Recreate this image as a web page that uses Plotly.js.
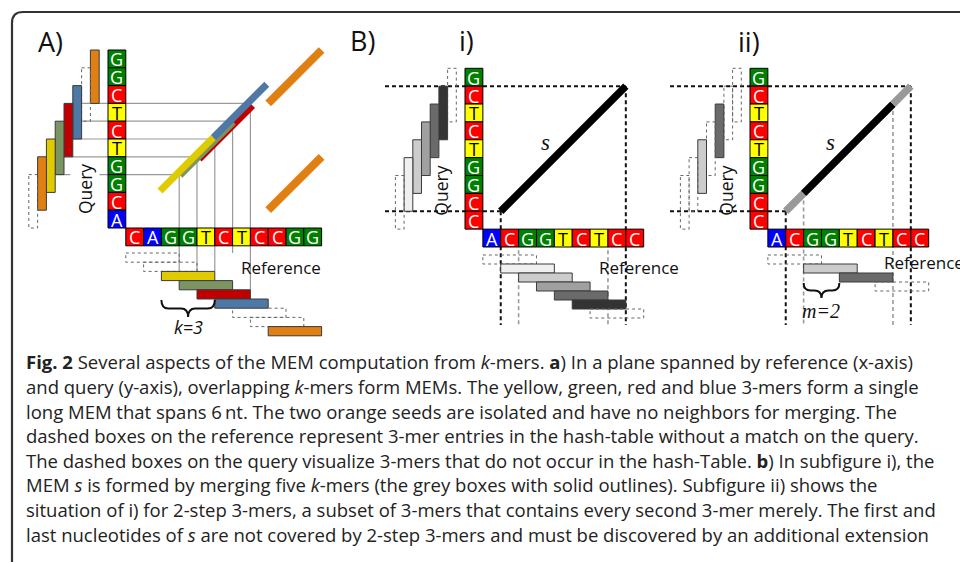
<!DOCTYPE html>
<html><head><meta charset="utf-8">
<script src="https://cdn.plot.ly/plotly-3.0.1.min.js"></script>
<style>html,body{margin:0;padding:0;background:#fff;}#chart{width:960px;height:562px;}</style>
</head><body><div id="chart"></div>
<script>
// ================= DATA =================
// Panel A: sequences (query listed top -> bottom, reference left -> right)
const queryA = ['G','G','C','T','C','T','G','G','C','A'];
const referenceA = ['C','A','G','G','T','C','T','C','C','G','G'];
// 3-mers on the query (by start, top-down) and on the reference (by start)
const queryKmersA = ['orange','none','blue','red','green','yellow','orange','none'];
const referenceKmersA = ['none','none','yellow','green','red','blue','none','none','orange'];
// seed matches: colour, query start (top-down), reference start
const seedColorsA = ['red','green','yellow','blue','orange','orange'];
const seedQueryA = [3,4,5,2,0,6];
const seedRefA = [4,3,2,5,8,8];
// guide corners along the MEM (boundary index) and the k-mer row where each vertical guide stops
const guideCornersA = [3,4,5,6,7];
const guideEndRowsA = [2,2,2,0,4];
const kValue = 3;
const kBraceStart = 2;

// Panel B
const queryB = ['G','C','T','C','T','G','G','C','C'];
const referenceB = ['A','C','G','G','T','C','T','C','C'];
const queryKmersBi = ['none','g5','g4','g3','g2','g1','none'];
const refKmerPosBi = [0,1,2,3,4,5,6];
const refKmersBi = ['none','g1','g2','g3','g4','g5','none'];
const queryKmersBii = ['none','none','g4','none','g2','none','none'];
const refKmerPosBii = [0,2,4,6];
const refKmersBii = ['none','g2','g4','none'];
const memB = [1,8];          // MEM s boundaries (reference and query bottom-up)
const coveredBii = [2,7];    // part of s covered by 2-step 3-mers
const mValue = 2;

// Text
const panelLabels = ['A)','B)','i)','ii)'];
const captionLines = [
 '<b>Fig. 2</b> Several aspects of the MEM computation from <i>k</i>-mers. <b>a</b>) In a plane spanned by reference (x-axis)',
 'and query (y-axis), overlapping <i>k</i>-mers form MEMs. The yellow, green, red and blue 3-mers form a single',
 'long MEM that spans 6\u2009nt. The two orange seeds are isolated and have no neighbors for merging. The',
 'dashed boxes on the reference represent 3-mer entries in the hash-table without a match on the query.',
 'The dashed boxes on the query visualize 3-mers that do not occur in the hash-Table. <b>b</b>) In subfigure i), the',
 'MEM <i>s</i> is formed by merging five <i>k</i>-mers (the grey boxes with solid outlines). Subfigure ii) shows the',
 'situation of i) for 2-step 3-mers, a subset of 3-mers that contains every second 3-mer merely. The first and',
 'last nucleotides of <i>s</i> are not covered by 2-step 3-mers and must be discovered by an additional extension'
];

// ================= STYLE / LAYOUT =================
const baseFill = {A:'#0000ff', C:'#ff0000', G:'#008000', T:'#ffff00'};
const baseInk = {A:'#ffffff', C:'#ffffff', G:'#ffffff', T:'#000000'};
const kmerFill = {yellow:'#dfcb00', green:'#7b9462', red:'#c00000', blue:'#4e78a6', orange:'#e07f12',
  g1:'#f0f0f0', g2:'#cccccc', g3:'#a0a0a0', g4:'#6a6a6a', g5:'#333333'};
const seedStyle = {red:[3,7], green:[1,7], yellow:[-2,7], blue:[-2,7], orange:[0,8]}; // [perp offset, width]
const FONT = 'Open Sans';

const shapes = [], ann = [];
function rect(x0,y0,x1,y1,fill,lc,lw,dash){
  shapes.push({type:'rect',xref:'x',yref:'y',x0,y0,x1,y1,fillcolor:fill||'rgba(0,0,0,0)',
    line:{color:lc,width:lw,dash:dash||'solid'}});
}
function seg(x0,y0,x1,y1,c,w,dash){
  shapes.push({type:'line',xref:'x',yref:'y',x0,y0,x1,y1,line:{color:c,width:w,dash:dash||'solid'}});
}
function path(d,c,w){
  shapes.push({type:'path',xref:'x',yref:'y',path:d,fillcolor:'rgba(0,0,0,0)',line:{color:c,width:w}});
}
function text(x,y,t,size,color,opt){
  ann.push(Object.assign({xref:'x',yref:'y',x,y,text:t,showarrow:false,
    font:{family:FONT,size,color}},opt||{}));
}
function panel(P,query,ref){
  const n = query.length;
  P.query = query; P.ref = ref; P.n = n;
  P.qTop = i => P.qy + i*P.cell;
  P.qBU = j => P.qy + (n-j)*P.cell;
  P.rx = j => P.qx + P.cell + j*P.cell;
  P.refTop = P.qy + n*P.cell; P.refBot = P.refTop + P.cell;
  P.colX0 = t => P.qx - (t+2)*P.colW;
  P.colX1 = t => P.qx - (t+1)*P.colW;
  P.rowY0 = r => P.refBot + P.kGap + r*P.rowH;
  return P;
}
function kmerBox(x0,y0,x1,y1,kind){
  if(kind==='none') rect(x0,y0,x1,y1,null,'#666666',1,'dot');
  else rect(x0,y0,x1,y1,kmerFill[kind],'#3a3a3a',1);
}
function queryKmers(P,list){
  list.forEach((k,t)=>kmerBox(P.colX0(t),P.qTop(t),P.colX1(t),P.qTop(t+3),k));
}
function refKmers(P,pos,list){
  list.forEach((k,row)=>kmerBox(P.rx(pos[row]),P.rowY0(row),P.rx(pos[row]+3),P.rowY0(row)+P.rowH,k));
}
function cells(P){
  P.query.forEach((b,i)=>{
    rect(P.qx,P.qTop(i),P.qx+P.cell,P.qTop(i+1),baseFill[b],'#000',1);
    text(P.qx+P.cell/2,P.qTop(i)+P.cell/2+0.5,b,18,baseInk[b],{borderpad:0});
  });
  P.ref.forEach((b,j)=>{
    rect(P.rx(j),P.refTop,P.rx(j+1),P.refBot,baseFill[b],'#000',1);
    text(P.rx(j)+P.cell/2,P.refTop+P.cell/2+0.5,b,18,baseInk[b],{borderpad:0});
  });
}
function brace(x1,x2,yt,yb){
  const xm=(x1+x2)/2, ym=(yt+yb)/2, r=Math.min(7,(x2-x1)/5);
  return `M${x1},${yt} Q${x1},${ym} ${x1+r},${ym} L${xm-r},${ym} Q${xm},${ym} ${xm},${yb} `+
         `Q${xm},${ym} ${xm+r},${ym} L${x2-r},${ym} Q${x2},${ym} ${x2},${yt}`;
}

// ================= FRAME =================
path('M12,570 L12,23 Q12,12 23,12 L970,12','#333333',2.2);

// ================= PANEL A =================
const PA = panel({qx:108, qy:50, cell:17.8, colW:8.8, rowH:9.2, kGap:7.2}, queryA, referenceA);
guideCornersA.forEach((j,i)=>{
  const t = PA.n - j;
  seg(PA.colX1(t), PA.qBU(j), PA.rx(j), PA.qBU(j), '#9a9a9a', 1.2);
  seg(PA.rx(j), PA.qBU(j), PA.rx(j), PA.rowY0(guideEndRowsA[i]), '#9a9a9a', 1.2);
});
queryKmers(PA, queryKmersA);
refKmers(PA, referenceKmersA.map((k,i)=>i), referenceKmersA);
cells(PA);
seedColorsA.forEach((c,i)=>{
  const t=seedQueryA[i], r=seedRefA[i];
  const o=seedStyle[c][0]/Math.SQRT2;
  seg(PA.rx(r)+o, PA.qTop(t+3)+o, PA.rx(r+3)+o, PA.qTop(t)+o, kmerFill[c], seedStyle[c][1]);
});
path(brace(PA.rx(kBraceStart), PA.rx(kBraceStart+kValue), 300, 317), '#111', 2);
text((PA.rx(kBraceStart)+PA.rx(kBraceStart+kValue))/2, 327, '<i>k=3</i>', 18, '#111');
text(PA.qx-23, PA.refTop-39, 'Query', 17.5, '#111', {textangle:-90, bgcolor:'#ffffff', borderpad:2});
text(PA.rx(0)+155, PA.refTop+39, 'Reference', 17, '#111');
text(50, 41, panelLabels[0], 27, '#111');

// ================= PANEL B =================
function panelB(P, qk, rpos, rk, split){
  const y1=P.qBU(memB[0]), y2=P.qBU(memB[1]), x1=P.rx(memB[0]), x2=P.rx(memB[1]);
  const dashC='#111', dashP='4px,3px';
  // grey dashed guides at covered boundaries
  coveredBii.forEach(j=>{
    seg(P.rx(j), split ? P.qBU(j) : P.refTop, P.rx(j), P.dashBottom, '#9a9a9a', 1.6, dashP);
  });
  seg(P.qx-80, y2, x2, y2, dashC, 2, dashP);
  seg(P.qx-80, y1, x1, y1, dashC, 2, dashP);
  seg(x1, y1, x1, P.dashBottom, dashC, 2, dashP);
  seg(x2, y2, x2, P.dashBottom, dashC, 2, dashP);
  queryKmers(P, qk);
  refKmers(P, rpos, rk);
  cells(P);
  if(split){
    const a=coveredBii[0], b=coveredBii[1];
    seg(x1,y1,P.rx(a),P.qBU(a),'#999999',7.5);
    seg(P.rx(a),P.qBU(a),P.rx(b),P.qBU(b),'#000000',7.5);
    seg(P.rx(b),P.qBU(b),x2,y2,'#999999',7.5);
  } else {
    seg(x1,y1,x2,y2,'#000000',7.5);
  }
  ann.push({xref:'x',yref:'y',x:P.qx+80,y:142,text:'<i>s</i>',showarrow:false,
    font:{family:'Liberation Serif',size:23,color:'#111'}});
  text(P.qx-23.5, P.refTop-38, 'Query', 17.5, '#111', {textangle:-90});
}
const PBi = panel({qx:465, qy:68.3, cell:17.87, colW:8.7, rowH:9, kGap:8, dashBottom:325}, queryB, referenceB);
panelB(PBi, queryKmersBi, refKmerPosBi, refKmersBi, false);
text(PBi.rx(0)+156, PBi.refTop+38, 'Reference', 17, '#111');

const PBii = panel({qx:750, qy:68.3, cell:17.87, colW:8.7, rowH:9, kGap:8, dashBottom:325}, queryB, referenceB);
panelB(PBii, queryKmersBii, refKmerPosBii, refKmersBii, true);
text(PBii.rx(0)+114, PBii.refTop+33, 'Reference', 17, '#111', {xanchor:'left'});
path(brace(PBii.rx(coveredBii[0]), PBii.rx(coveredBii[0]+mValue), 283, 298), '#111', 2);
ann.push({xref:'x',yref:'y',x:(PBii.rx(coveredBii[0])+PBii.rx(coveredBii[0]+mValue))/2,y:311,
  text:'<i>m=2</i>',showarrow:false,font:{family:'Liberation Serif',size:20,color:'#111'}});

text(362, 40, panelLabels[1], 27, '#111');
text(466, 40, panelLabels[2], 27, '#111');
text(749, 41, panelLabels[3], 27, '#111');

// ================= CAPTION =================
captionLines.forEach((line,i)=>{
  text(24, 368.3 + i*24.6 - 6.5, line, 18.5, '#222222', {xanchor:'left', yanchor:'middle'});
});

Plotly.newPlot('chart', [{x:[], y:[], type:'scatter', mode:'markers', hoverinfo:'skip', showlegend:false}], {
  width:960, height:562, margin:{l:0,r:0,t:0,b:0},
  xaxis:{range:[0,960], visible:false, fixedrange:true},
  yaxis:{range:[562,0], visible:false, fixedrange:true},
  paper_bgcolor:'#ffffff', plot_bgcolor:'#ffffff', showlegend:false,
  shapes:shapes, annotations:ann
}, {staticPlot:true});
</script>
</body></html>
